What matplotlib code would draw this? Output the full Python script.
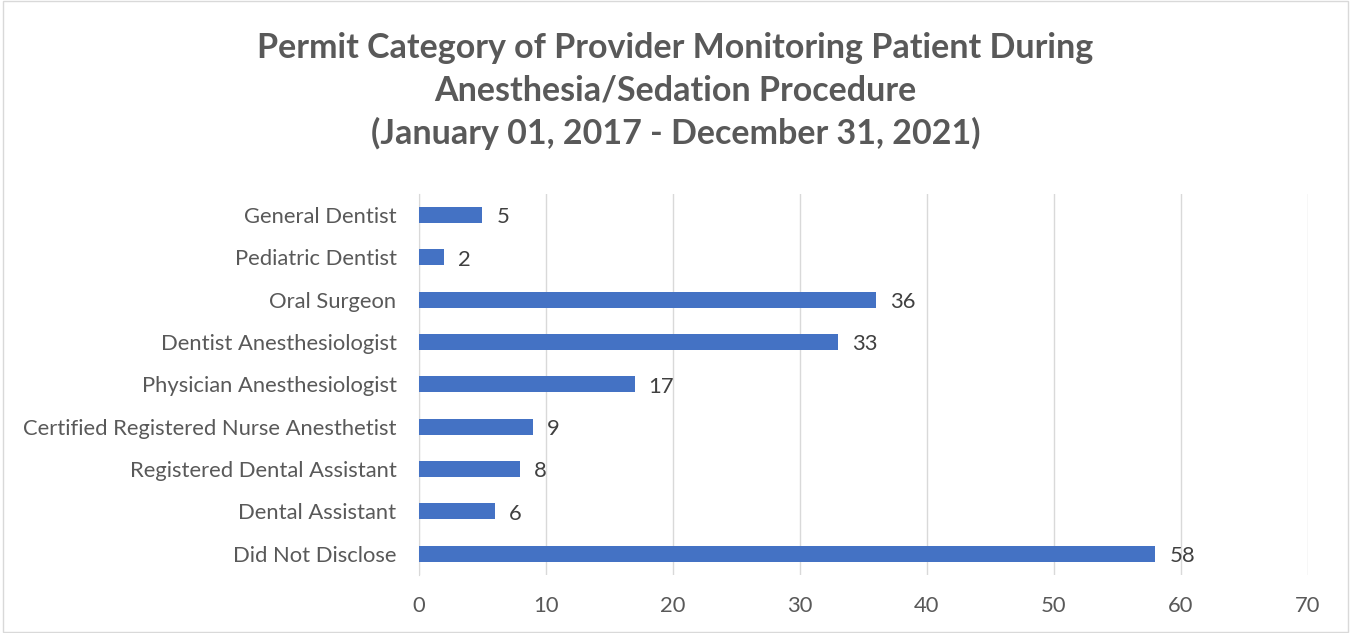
import matplotlib.pyplot as plt
from matplotlib.patches import Rectangle

categories = [
    "General Dentist",
    "Pediatric Dentist",
    "Oral Surgeon",
    "Dentist Anesthesiologist",
    "Physician Anesthesiologist",
    "Certified Registered Nurse Anesthetist",
    "Registered Dental Assistant",
    "Dental Assistant",
    "Did Not Disclose",
]
counts = [5, 2, 36, 33, 17, 9, 8, 6, 58]
x_ticks = [0, 10, 20, 30, 40, 50, 60, 70]

plt.rcParams["font.family"] = ["Lato", "DejaVu Sans"]

fig = plt.figure(figsize=(13.51, 6.33), dpi=100)
ax = fig.add_axes([0.310, 0.092, 0.658, 0.602])

y = list(range(len(categories)))
ax.barh(y, counts, height=0.38, color="#4472C4", zorder=3)
for yi, v in zip(y, counts):
    ax.text(v + 1.1, yi + 0.06, str(v), va="center", ha="left", fontsize=15.8, color="#404040")

ax.set_yticks(y)
ax.set_yticklabels(categories, fontsize=15.8, color="#595959")
ax.set_ylim(len(categories) - 0.5, -0.5)
ax.set_xlim(0, 70)
ax.set_xticks(x_ticks)
ax.set_xticklabels([str(t) for t in x_ticks], fontsize=15.8, color="#595959")
ax.tick_params(length=0, pad=15)
ax.tick_params(axis="y", pad=16)
ax.grid(axis="x", color="#d9d9d9", linewidth=1, zorder=0)
for s in ["top", "right", "bottom"]:
    ax.spines[s].set_visible(False)
ax.spines["left"].set_color("#d9d9d9")

fig.text(0.50, 0.950, "Permit Category of Provider Monitoring Patient During\nAnesthesia/Sedation Procedure\n(January 01, 2017 - December 31, 2021)",
         ha="center", va="top", fontsize=24.5, fontweight="bold", color="#595959", linespacing=1.4)

fig.patches.append(Rectangle((0.002, 0.002), 0.996, 0.996, transform=fig.transFigure,
                             fill=False, edgecolor="#d9d9d9", linewidth=1))

fig.savefig("out.png", dpi=100)
